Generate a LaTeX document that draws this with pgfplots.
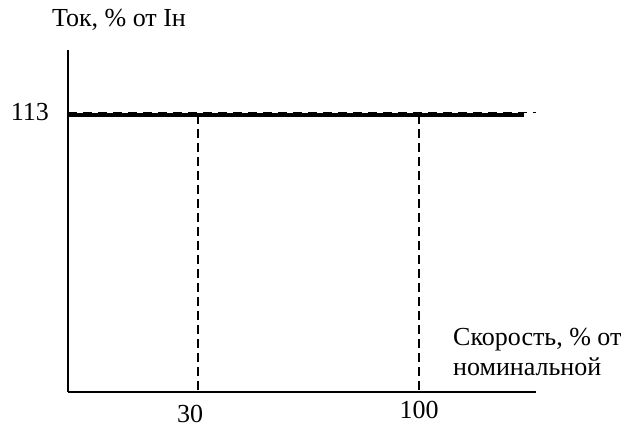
\documentclass[border=0pt]{standalone}
\usepackage{fontspec}
\setmainfont{Liberation Serif}
\usepackage{pgfplots}
\pgfplotsset{compat=1.18}
\begin{document}
\begin{tikzpicture}[x=1pt,y=1pt, every node/.style={font=\fontsize{26}{30}\selectfont, inner sep=0pt}]
\path[use as bounding box] (-68,-36) rectangle (560,392);
\begin{axis}[
  at={(0,0)}, anchor=south west,
  scale only axis, width=468pt, height=342pt,
  xmin=-11.2, xmax=137.1, ymin=0, ymax=139.5,
  axis x line=bottom, axis y line=left,
  axis line style={-, line width=1.4pt, black},
  xtick=\empty, ytick=\empty,
  clip=false,
]
\addplot[black, line width=4pt] coordinates {(-11.2,113) (133.3,113)};
\addplot[black, line width=1.2pt, dash pattern=on 9pt off 6pt] coordinates {(-11.2,114.1) (137,114.1)};
\addplot[black, line width=1.2pt, dash pattern=on 9pt off 5pt] coordinates {(30,113) (30,0)};
\addplot[black, line width=1.2pt, dash pattern=on 9pt off 5pt] coordinates {(100,113) (100,0)};
\end{axis}
\node[anchor=base] at (51,365) {Ток, \% от Iн};
\node[anchor=base east] at (-19,271) {113};
\node[anchor=base] at (122,-30) {30};
\node[anchor=base] at (351,-26) {100};
\node[anchor=base west] at (385,47) {Скорость, \% от};
\node[anchor=base west] at (385,17) {номинальной};
\end{tikzpicture}
\end{document}
